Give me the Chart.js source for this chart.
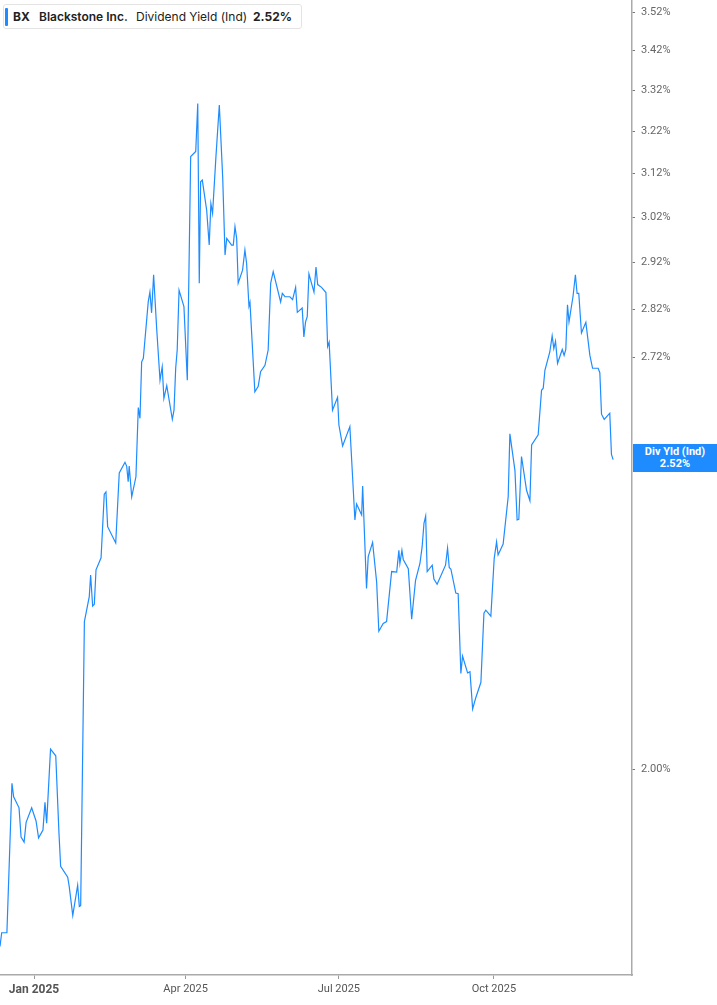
<!DOCTYPE html>
<html>
<head>
<meta charset="utf-8">
<script src="https://cdn.jsdelivr.net/npm/chart.js@4"></script>
<style>
  html, body { margin:0; padding:0; background:#fff; }
  #wrap { position:relative; width:717px; height:1005px; overflow:hidden; }
  #legend { position:absolute; left:3px; top:4px; width:299px; height:25px; border:1px solid #e3e3e3; border-radius:3px; background:#fff; font-family:Inter, "Noto Sans", sans-serif; font-size:12px; color:#222; box-sizing:border-box; }
  #legend .bar { position:absolute; left:1px; top:3px; width:3px; height:18px; background:#1e8cff; border-radius:1px; }
  #legend span { position:absolute; top:4px; white-space:nowrap; }
  #tag { position:absolute; left:633px; top:444px; width:84px; height:28px; background:#1e8cff; color:#fff; font-family:Roboto, "Liberation Sans", sans-serif; font-weight:bold; font-size:11px; line-height:12px; text-align:center; padding-top:2px; box-sizing:border-box; }
</style>
</head>
<body>
<div id="wrap">
  <canvas id="c" width="717" height="1005"></canvas>
  <div id="legend">
    <div class="bar"></div>
    <span id="lgTicker" style="left:9px;font-weight:700;"></span>
    <span id="lgName" style="left:35px;font-weight:600;"></span>
    <span id="lgMetric" style="left:132px;font-weight:400;"></span>
    <span id="lgValue" style="left:249px;font-weight:700;"></span>
  </div>
  <div id="tag"><div id="tagName"></div><div id="tagValue"></div></div>
</div>
<script>
// Days since 2025-01-01 for each plotted point
const days = [-20.2,-19.2,-16.1,-13.1,-12.1,-8.9,-7.7,-5.9,-4.7,-1.4,1.2,2.7,5.3,6.5,7.5,9.8,12.9,14.8,15.8,20.0,20.9,23.0,25.9,26.9,27.7,29.9,32.8,33.6,34.8,35.8,36.8,39.8,41.7,42.7,43.7,48.5,50.6,54.0,55.0,55.9,56.5,58.0,60.5,61.9,62.9,63.9,64.9,67.8,68.8,69.8,71.0,72.8,74.8,76.1,77.1,78.8,82.1,83.1,84.1,85.0,86.1,89.0,91.0,93.0,96.0,97.2,98.1,98.9,99.9,102.5,104.0,105.0,106.0,108.0,110.0,112.0,113.4,114.4,117.3,118.3,119.3,120.3,121.2,123.8,125.2,126.2,127.6,128.2,131.1,133.1,134.5,137.1,139.0,140.5,142.0,146.4,147.4,149.0,151.9,153.5,155.3,156.3,159.2,160.2,161.2,162.2,163.2,166.2,167.4,168.4,170.7,173.3,174.3,175.2,177.2,180.2,181.0,183.2,187.5,190.5,191.5,194.5,195.1,197.4,198.4,201.0,203.4,204.7,207.3,209.3,212.3,215.3,216.6,217.2,218.4,219.2,222.2,224.2,226.5,229.1,230.4,231.5,232.5,233.4,236.4,237.4,239.3,244.3,245.5,246.5,247.5,250.4,251.8,253.4,254.4,257.4,258.8,260.4,262.3,265.3,267.1,268.2,271.2,273.2,274.6,275.5,278.5,281.5,282.5,285.5,286.8,287.8,289.4,292.4,294.4,295.4,299.3,301.3,302.3,303.3,306.2,307.6,308.6,309.6,310.8,313.6,314.7,315.7,316.7,317.6,320.0,321.4,322.4,323.4,325.0,327.6,330.0,331.6,334.9,335.9,336.9,338.5,341.8,342.8,343.8];

// Dividend yield (%) at each point
const yields = [1.752,1.770,1.770,1.979,1.959,1.943,1.901,1.894,1.922,1.943,1.924,1.900,1.911,1.951,1.921,2.030,2.020,1.907,1.860,1.845,1.832,1.793,1.834,1.805,1.806,2.233,2.275,2.312,2.259,2.262,2.321,2.342,2.456,2.460,2.397,2.368,2.495,2.515,2.508,2.479,2.508,2.451,2.488,2.620,2.599,2.711,2.718,2.835,2.856,2.812,2.893,2.780,2.674,2.701,2.638,2.663,2.597,2.615,2.698,2.735,2.860,2.825,2.674,3.160,3.172,3.288,2.875,3.101,3.105,3.036,2.958,3.051,3.029,3.160,3.284,3.112,2.936,2.973,2.958,2.958,2.999,2.973,2.875,2.903,2.947,2.918,2.826,2.834,2.651,2.662,2.691,2.704,2.735,2.875,2.900,2.835,2.853,2.846,2.846,2.840,2.866,2.813,2.822,2.762,2.793,2.804,2.895,2.856,2.910,2.872,2.866,2.855,2.742,2.751,2.615,2.640,2.586,2.546,2.583,2.409,2.438,2.418,2.471,2.289,2.344,2.369,2.300,2.217,2.230,2.233,2.318,2.317,2.355,2.332,2.355,2.339,2.323,2.237,2.303,2.332,2.361,2.403,2.416,2.318,2.329,2.305,2.296,2.329,2.359,2.325,2.322,2.281,2.280,2.148,2.176,2.149,2.151,2.092,2.110,2.134,2.247,2.252,2.242,2.341,2.370,2.347,2.366,2.451,2.569,2.500,2.409,2.410,2.526,2.463,2.444,2.548,2.567,2.654,2.658,2.694,2.731,2.764,2.738,2.753,2.708,2.736,2.724,2.736,2.829,2.793,2.847,2.893,2.853,2.853,2.770,2.792,2.724,2.698,2.698,2.689,2.607,2.597,2.609,2.530,2.520];

const xTickDays = [0, 90, 181, 273];
const xTickLabels = ['Jan 2025', 'Apr 2025', 'Jul 2025', 'Oct 2025'];
const yTickValues = [2.00, 2.72, 2.82, 2.92, 3.02, 3.12, 3.22, 3.32, 3.42, 3.52];

const ticker = 'BX';
const company = 'Blackstone Inc.';
const metric = 'Dividend Yield (Ind)';
const tagLabel = 'Div Yld (Ind)';

const lastVal = yields[yields.length - 1].toFixed(2) + '%';
document.getElementById('lgTicker').textContent = ticker;
document.getElementById('lgName').textContent = company;
document.getElementById('lgMetric').textContent = metric;
document.getElementById('lgValue').textContent = lastVal;
document.getElementById('tagName').textContent = tagLabel;
document.getElementById('tagValue').textContent = lastVal;

const X_MIN = -20.2, X_MAX = 355, Y_MIN = 1.715, Y_MAX = 3.552;

const points = days.map((d, i) => ({ x: d, y: yields[i] }));

new Chart(document.getElementById('c'), {
  type: 'line',
  data: {
    datasets: [{
      data: points,
      borderColor: '#1e8cff',
      borderWidth: 1.2,
      pointRadius: 0,
      tension: 0,
      fill: false
    }]
  },
  options: {
    responsive: false,
    animation: false,
    layout: { padding: 0 },
    plugins: { legend: { display: false }, tooltip: { enabled: false } },
    scales: {
      x: {
        type: 'linear',
        bounds: 'data',
        min: X_MIN,
        max: X_MAX,
        grid: { display: true, drawOnChartArea: false, drawTicks: true, tickLength: 4, color: '#999' },
        border: { display: true, color: '#aaa', width: 1.5 },
        ticks: {
          autoSkip: false,
          maxRotation: 0,
          padding: 4,
          color: '#555',
          font: (ctx) => (ctx.tick && ctx.tick.value === 0)
            ? { family: 'Roboto', size: 12, weight: 'bold' }
            : { family: 'Roboto', size: 11 },
          callback: (v) => { const i = xTickDays.indexOf(v); return i >= 0 ? xTickLabels[i] : ''; }
        },
        afterBuildTicks: (s) => { s.ticks = xTickDays.map(v => ({ value: v })); s.min = X_MIN; s.max = X_MAX; },
        afterFit: (s) => { s.height = 30; s.paddingLeft = 0; s.paddingRight = 0; }
      },
      y: {
        type: 'logarithmic',
        position: 'right',
        bounds: 'data',
        min: Y_MIN,
        max: Y_MAX,
        grid: { display: true, drawOnChartArea: false, drawTicks: true, tickLength: 3, color: '#777' },
        border: { display: true, color: '#aaa', width: 1.5 },
        ticks: {
          autoSkip: false,
          padding: 6,
          color: '#666',
          font: { family: 'Roboto', size: 11 },
          callback: (v) => Number(v).toFixed(2) + '%'
        },
        afterBuildTicks: (s) => { s.ticks = yTickValues.map(v => ({ value: v })); s.min = Y_MIN; s.max = Y_MAX; },
        afterFit: (s) => { s.width = 85; s.paddingTop = 0; s.paddingBottom = 0; }
      }
    }
  }
});
</script>
</body>
</html>
